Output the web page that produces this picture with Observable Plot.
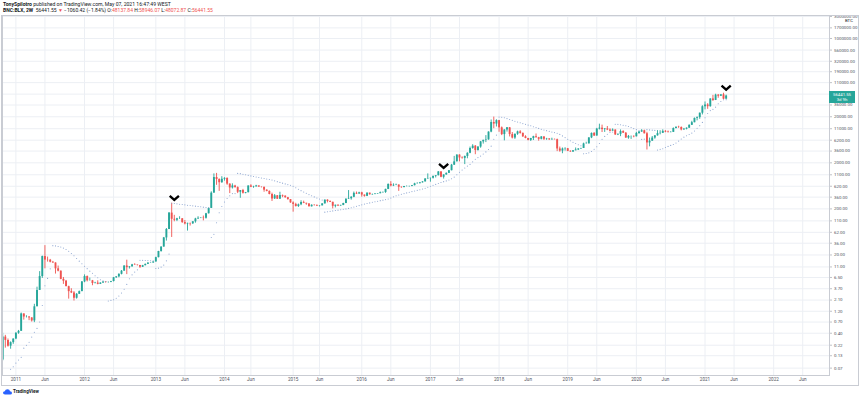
<!DOCTYPE html>
<html><head><meta charset="utf-8">
<script src="https://cdn.jsdelivr.net/npm/d3@7"></script>
<script src="https://cdn.jsdelivr.net/npm/@observablehq/plot@0.6"></script>
<style>
body{margin:0;background:#fff;font-family:Roboto,"Liberation Sans",sans-serif;}
#wrap{position:relative;width:860px;height:398px;overflow:hidden;background:#fff;}
#chart{position:absolute;left:0;top:0;}
.hdr{position:absolute;left:3px;color:#131722;white-space:nowrap;line-height:6px;}
.red{color:#ef5350;}
#box{position:absolute;left:1px;top:15px;width:856px;height:369px;border:1px solid #c9ccd3;pointer-events:none;}
#plabel{position:absolute;left:829px;width:26px;height:12px;background:#26a69a;color:#fff;font-size:4.3px;line-height:5px;text-align:center;padding-top:1px;box-sizing:border-box;}
#btc{position:absolute;left:845px;top:18px;font-size:4.3px;line-height:5px;color:#131722;}
#logo{position:absolute;left:3px;top:389px;font-size:4.6px;line-height:6px;font-weight:bold;color:#131722;display:flex;align-items:center;gap:1px;}
</style></head><body>
<div id="wrap">
<div id="chart"></div>
<div id="box"></div>
<div class="hdr" style="top:0.5px;font-size:5.1px"><b>TonySpilotro</b> published on TradingView.com, May 07, 2021 16:47:49 WEST</div>
<div class="hdr" style="top:7px;font-size:5px"><b>BNC:BLX, 2W</b>&nbsp; 56441.55 <span class="red">▼</span> −1060.42 (−1.84%) O:<span class="red">48137.84</span> H:<span class="red">58946.07</span> L:<span class="red">48072.87</span> C:<span class="red">56441.55</span></div>
<div id="btc">BTC</div>
<div id="plabel"></div>
<div id="logo"><svg width="9" height="6" viewBox="0 0 18 12"><path d="M4 11 Q0 11 0 7.5 Q0 4.5 3.5 4.5 Q4.5 0.5 9 0.5 Q13.5 0.5 14 4.5 Q18 4.8 18 8 Q18 11 14.5 11 Z" fill="#2962ff"/></svg>TradingView</div>
</div>
<script>
// ---- data (2-week bars of BNC:BLX) ----
const firstBar = "2010-10-25";
const barDays = 14;
const firstOpen = 0.105;
const closes = [0.33,0.28,0.21,0.25,0.30,0.40,0.44,1.05,0.90,0.90,
0.86,0.74,1.50,3.40,6.8,18.5,15.5,15.4,13.9,13.4,
10.0,8.9,5.9,5.4,4.1,3.2,3.0,2.3,2.8,3.2,
5.2,6.8,5.5,5.5,4.8,4.9,4.6,4.9,5.2,5.1,
5.1,5.3,6.4,6.7,7.6,8.9,11.5,10.6,11.0,12.2,
12.0,11.8,10.8,11.7,12.5,13.3,13.4,14.1,17.5,23.8,
29.7,46.9,71.5,162,119,114,122,122,101,94,
97,95,105,121,125,127,125,157,205,440,
960,870,740,880,920,690,570,630,580,460,
500,435,450,630,590,600,630,595,590,510,
480,410,330,385,325,390,378,350,318,270,
250,225,245,275,265,255,222,240,237,230,
233,257,310,290,278,228,240,232,238,262,
325,332,357,435,420,447,400,375,440,405,
410,420,428,450,455,530,680,630,650,660,
590,580,610,610,615,640,700,705,735,770,
895,910,925,1015,1050,1270,970,1090,1180,1350,
1780,2100,2950,2550,2500,2750,3230,4100,4600,3700,
4400,5700,6150,6300,9300,15000,13900,16500,11500,8200,
10300,11500,8200,6900,8350,9400,8700,7350,6750,6150,
6750,7400,7020,6480,7300,6500,6600,6300,6450,6350,
4000,3600,4000,4050,3550,3450,3650,3800,4000,4100,
5150,5150,6950,8700,7650,10800,11300,10550,10900,10300,
9750,10300,8050,8300,9550,8800,6900,7500,7500,7350,
8700,9350,9900,8550,5400,5900,6900,7700,8600,8750,
9650,9300,9050,9170,11100,11850,11700,10350,10750,11300,
13050,14850,18400,19150,23900,33000,36000,33100,48700,45200,
59000,55800,59800,48137.84,56441.55];
const highs = [0.40,0.36,0.30,0.26,0.30,0.41,0.46,1.10,1.05,0.96,
0.92,0.87,1.70,4.0,8.7,18.9,31.9,18.0,16.0,14.5,
13.5,11.5,9.0,6.5,5.6,4.2,3.7,3.2,2.9,3.3,
5.3,7.4,7.0,6.3,5.6,5.1,5.5,5.0,5.25,5.3,
5.2,5.35,6.5,6.8,7.8,9.2,11.7,15.4,11.2,12.5,
12.9,12.2,11.9,11.9,12.7,13.6,13.6,14.2,17.9,24.0,
30.0,48.0,75.0,165,266,145,125,135,123,112,
98,98,106,125,135,128,140,160,208,470,
1150,1180,900,1000,950,940,700,700,650,600,
500,530,455,630,670,620,650,630,600,590,
520,490,440,410,390,460,400,385,355,320,
285,265,255,300,295,265,260,245,245,245,
235,260,312,315,298,280,242,245,240,265,
330,500,370,465,465,460,460,400,445,440,
420,425,430,465,465,535,695,780,700,690,
660,600,615,630,620,645,720,740,750,780,
900,1150,930,1030,1060,1290,1290,1100,1210,1355,
1850,2760,2980,2980,2700,2800,3300,4400,4950,4750,
4450,5800,6200,7800,9400,17000,19700,17200,16700,12000,
10500,11600,11700,9100,8400,9750,9990,8900,7750,6800,
6800,7550,8450,7150,7400,7400,6800,6700,6850,6550,
6550,4400,4200,4250,4100,3650,3700,4200,4050,4150,
5350,5600,7000,8900,9100,11200,13800,13150,11100,12300,
10950,10900,10400,8500,10350,9950,9100,7850,7650,7700,
9200,9550,10500,10250,9200,6900,7450,7800,10000,9950,
10400,10000,9800,9450,11450,12000,12450,12050,11150,11450,
13350,15950,18800,19900,24100,34700,41900,38500,49000,58300,
61700,60600,60200,64800,58946.07];
const lows = [0.10,0.19,0.20,0.18,0.23,0.29,0.38,0.44,0.77,0.86,
0.75,0.70,0.68,1.5,3.4,6.2,10.0,14.0,13.5,13.2,
7.7,8.6,5.8,4.6,4.1,2.2,2.9,2.0,2.2,2.8,
3.2,5.0,5.2,5.4,4.3,4.7,4.5,4.6,4.8,4.9,
4.9,5.0,5.2,6.2,6.4,7.4,8.9,7.5,9.9,11.0,
11.9,11.5,10.2,10.7,11.6,12.4,13.2,13.2,14.0,17.3,
23.0,29.5,40.0,71,48,105,106,118,97,90,
66,85,92,98,118,123,110,120,155,205,
440,650,480,720,800,650,430,540,560,430,
340,420,425,445,580,560,600,590,570,460,
470,405,290,320,320,320,350,340,310,265,
170,220,215,235,260,240,220,220,230,225,
220,232,255,270,275,200,210,225,228,235,
260,320,310,350,410,415,360,360,370,400,
395,405,415,425,440,435,525,600,610,640,
480,560,570,600,595,605,630,690,700,730,
770,880,760,890,940,1045,950,890,1080,1170,
1340,1750,2100,2100,2400,1830,2450,3150,3950,3000,
3600,4150,5100,5500,6200,9000,11000,12000,9200,7800,
6000,9300,7300,6600,6450,7900,8400,7100,6650,6000,
5800,6100,6900,5900,6300,6100,6150,6150,6250,6300,
3500,3400,3150,3600,3500,3380,3350,3650,3700,3950,
4100,5050,5150,6700,7450,7550,10350,9100,9150,10000,
9350,9700,7900,7800,7400,8650,6800,6500,6450,7000,
7300,8300,9150,8450,3800,4450,5850,6500,7600,8100,
8650,9000,8950,9000,9150,10900,11200,9900,10200,10400,
11200,12950,14800,16300,17600,21900,28200,29000,32300,43000,
44950,50400,55000,47000,48072.87];
// Parabolic SAR dots (null = no dot)
const sar = [null,null,null,0.066,0.075,0.09,0.105,0.12,0.19,0.22,
0.255,0.33,0.42,0.51,0.70,1.6,4.3,6.2,10.0,31.9,
31.5,30.6,29.7,28.2,26.3,24.1,21.5,19.2,16.8,14.7,
12.9,11.4,10.1,8.9,8.0,7.1,6.4,5.8,5.5,5.3,
2.0,2.07,2.13,2.3,2.57,2.98,3.6,4.6,6.1,7.4,
8.5,9.5,15.4,15.3,15.2,15.1,15.0,14.9,10.2,10.35,
10.9,12.05,14.9,20.9,266,261.6,257.3,253.0,248.9,244.8,
240.8,236.9,233.0,229.2,225.5,221.9,218.3,214.8,211.4,48,
56,100,165,226,283,337,387,430,430,1180,
1165,1132,1100,1070,1041,1013,986,960,935,911,
889,867,846,812,781,752,724,698,674,651,
620,575,534,498,465,436,409,385,364,344,
327,311,170,173,177,181,184,188,192,196,
200,205,212,220,228,236,245,254,262,270,
278,286,294,302,310,318,328,345,365,385,
400,415,430,445,460,475,490,505,520,540,
560,590,620,650,680,710,750,780,810,850,
900,980,1100,1250,1400,1550,1700,1850,2100,2400,
2600,2800,3100,3450,3900,4600,6500,8000,19700,19490,
19022,18241,17460,16725,16033,15391,14788,14221,13688,13187,
12716,12163,11653,11185,10754,10358,9993,9657,9349,9065,
8804,8274,7689,7054,6489,6008,5594,5238,4943,4689,
3150,3194,3290,3513,3944,4460,5269,6463,7490,8373,
9133,9350,13800,13682,13447,13084,12743,12268,11691,11062,
10509,10023,6450,6531,10500,10366,10234,10105,3800,3924,
4045,4299,4543,4778,5003,5390,5919,6572,7225,7748,
8218,8834,9830,11265,12819,15075,19000,23580,27244,29000,
32300,38180,42884,46647,47000];
// price-axis labels
const yTicks = [0.07,0.13,0.22,0.40,0.70,1.20,2.10,3.70,6.50,11,20,36,62,110,200,360,620,1100,2000,3600,6200,11000,20000,36000,62000,110000,190000,320000,560000,1000000,1700000,3000000];
// time-axis labels
const xTickDates = ["2011-01-03","2011-06-06","2012-01-02","2012-06-04","2013-01-14","2013-06-17","2014-01-13","2014-06-02","2015-01-12","2015-06-01","2016-01-11","2016-06-13","2017-01-09","2017-06-12","2018-01-08","2018-06-11","2019-01-07","2019-06-10","2020-01-06","2020-06-08","2021-01-04","2021-06-07","2022-01-03","2022-06-06"];
const xTickLabels = ["2011","Jun","2012","Jun","2013","Jun","2014","Jun","2015","Jun","2016","Jun","2017","Jun","2018","Jun","2019","Jun","2020","Jun","2021","Jun","2022","Jun"];
// chevron drawings
const checkDates = ["2013-04-22","2017-03-20","2021-04-26"];
const checkPrices = [347,1715,85700];
const lastCountdown = "3d 9h";

// ---- build ----
const t0 = new Date(firstBar + "T00:00:00Z").getTime();
const bars = closes.map((c, i) => ({
  date: new Date(t0 + i * barDays * 864e5),
  open: i === 0 ? firstOpen : closes[i - 1],
  close: c, high: highs[i], low: lows[i], sar: sar[i]
}));
const up = "#26a69a", down = "#ef5350";
const col = d => d.close >= d.open ? up : down;
const tickD = xTickDates.map(s => new Date(s + "T00:00:00Z"));
const tickLab = new Map(tickD.map((d, i) => [+d, xTickLabels[i]]));
const checks = checkDates.map((s, i) => ({date: new Date(s + "T00:00:00Z"), price: checkPrices[i]}));
const chevron = {draw(ctx, size) { const r = Math.sqrt(size / Math.PI); ctx.moveTo(-r, -r * 0.45); ctx.lineTo(0, r * 0.45); ctx.lineTo(r, -r * 0.45); }};
const hline = {draw(ctx, size) { const r = Math.sqrt(size / Math.PI); ctx.moveTo(0, 0); ctx.lineTo(r, 0); }};

const chart = Plot.plot({
  width: 860, height: 398,
  marginTop: 15, marginBottom: 23, marginLeft: 2, marginRight: 31,
  style: {fontFamily: "Roboto, 'Liberation Sans', sans-serif", fontSize: "4.5px", background: "transparent", color: "#131722"},
  x: {type: "utc", axis: null, domain: [new Date("2010-10-24T00:00:00Z"), new Date("2022-10-26T00:00:00Z")]},
  y: {type: "log", axis: null, domain: [0.0484, 3155000]},
  marks: [
    Plot.gridX(tickD, {stroke: "#eceff4", strokeOpacity: 1}),
    Plot.gridY(yTicks, {stroke: "#eceff4", strokeOpacity: 1}),
    Plot.ruleX(bars, {x: "date", y1: "low", y2: "high", stroke: col, strokeWidth: 0.9, clip: true}),
    Plot.ruleX(bars, {x: "date", y1: "open", y2: "close", stroke: col, strokeWidth: 1.9, clip: true}),
    Plot.dot(bars.filter(d => d.sar != null), {x: "date", y: "sar", r: 0.55, fill: "#8aa3cf", stroke: null, clip: true}),
    Plot.dot(checks, {x: "date", y: "price", symbol: chevron, r: 4.6, stroke: "#000", strokeWidth: 2.3, fill: "none", strokeLinejoin: "miter"}),
    Plot.dot(yTicks, {y: d => d, frameAnchor: "right", symbol: hline, r: 2.5, stroke: "#9598a1", strokeWidth: 0.6, fill: "none"}),
    Plot.text(yTicks, {y: d => d, frameAnchor: "right", text: d => d.toFixed(2), dx: 4.5, textAnchor: "start", fontSize: 4.4, fill: "#50535e"}),
    Plot.text(tickD, {x: d => d, frameAnchor: "bottom", text: d => tickLab.get(+d), dy: 5, fontSize: 4.6, fill: "#50535e"}),
    Plot.frame({stroke: "#c9ccd3"})
  ]
});
document.getElementById("chart").appendChild(chart);
const last = bars[bars.length - 1];
const yp = chart.scale("y").apply(last.close);
const pl = document.getElementById("plabel");
pl.style.top = (yp - 5) + "px";
pl.innerHTML = last.close.toFixed(2) + "<br>" + lastCountdown;
</script>
</body></html>
